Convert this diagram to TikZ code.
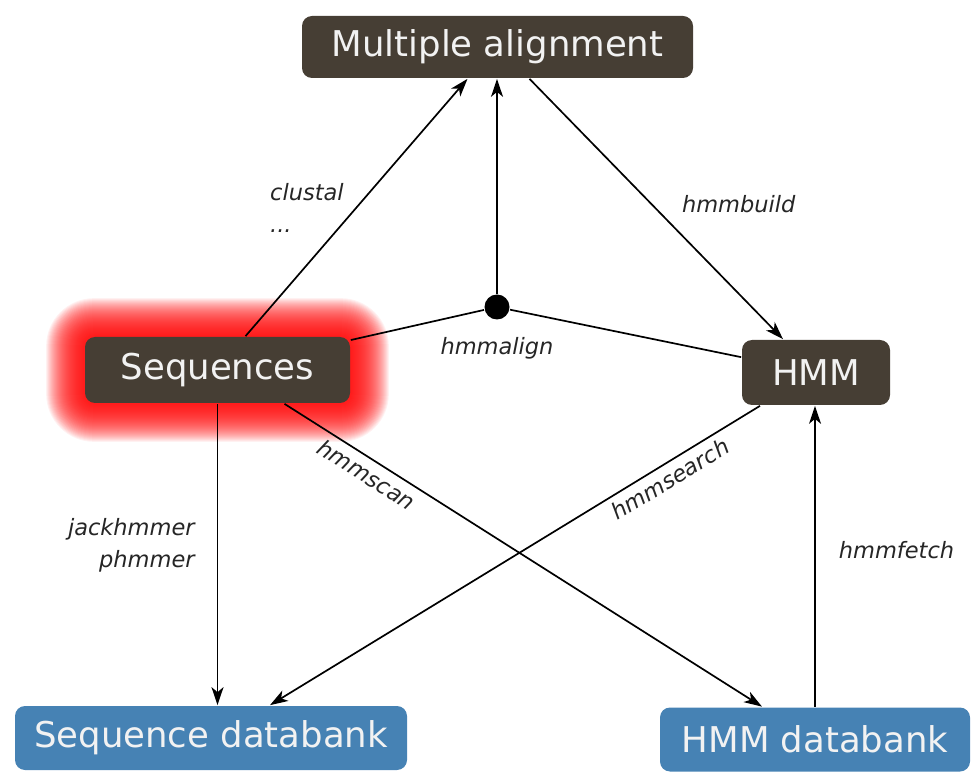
\documentclass[tikz,border=0pt]{standalone}
\usepackage{fontspec}
\setmainfont{DejaVu Sans}
\usetikzlibrary{arrows.meta,backgrounds}
\definecolor{boxbrown}{RGB}{70,62,52}
\definecolor{bankblue}{RGB}{70,130,180}

\begin{document}
\begin{tikzpicture}[x=1pt, y=-1pt, line width=1.7pt, >={Stealth[length=18pt,width=12pt,inset=5pt]},
    box/.style={rounded corners=10pt, fill=boxbrown, text=white!95!black, inner sep=0pt,
      font=\fontsize{35.5}{40}\selectfont, minimum height=62pt},
    bank/.style={box, fill=bankblue},
    tool/.style={font=\itshape\fontsize{22.5}{32}\selectfont, text=black!85, inner sep=2pt}]
    \useasboundingbox (0,0) rectangle (975,775);
    \node (ma) [box, minimum width=391pt] at (497.5,47) {Multiple alignment};
    \node (seq) [box, minimum width=265pt, minimum height=66pt] at (217.5,370) {Sequences};
    \node (hmm) [box, minimum width=148pt, minimum height=65pt] at (816,372.5) {HMM};
    \node (sdb) [bank, minimum width=392pt, minimum height=64pt] at (211,738) {Sequence databank};
    \node (hdb) [bank, minimum width=310pt, minimum height=64pt] at (815,739.5) {HMM databank};
    \node (dot) [circle, fill=black, minimum size=25pt, inner sep=0pt] at (497,307) {};
    \node (al) [tool] at (497,348) {hmmalign};
    % red glow round the sequences
    \begin{scope}[on background layer]
      \foreach \g [evaluate=\g as \r using 10+\g] in {1,...,38}
        \fill[red, opacity=.055, rounded corners=\r pt]
          ([shift={(-\g,\g)}]seq.south west) rectangle ([shift={(\g,-\g)}]seq.north east);
    \end{scope}
    \draw[->] ([xshift=28pt]seq.north) -- node[tool, left=10pt, align=left, pos=.5] {clustal\\...} ([xshift=-30pt]ma.south);
    \draw[->] (dot) -- (dot |- ma.south);
    \draw[->] ([xshift=32pt]ma.south) -- node[tool, right=28pt, pos=.48] {hmmbuild} ([xshift=-33pt]hmm.north);
    \draw (dot) -- (seq) (dot) -- (hmm);
    \draw[->] (seq.south) -- node[tool, left=20pt, align=right, pos=.47] {jackhmmer\\phmmer} (seq.south |- sdb.north);
    \draw[->] ([xshift=67pt]seq.south) -- node[tool, sloped, below=4pt, pos=.19] {hmmscan} ([xshift=-53pt]hdb.north);
    \draw[->] ([xshift=-56pt]hmm.south) -- node[tool, sloped, below=4pt, pos=.2] {hmmsearch} ([xshift=59pt]sdb.north);
    \draw[->] (hdb.north) -- node[tool, right=21pt, pos=.52] {hmmfetch} (hdb.north |- hmm.south);
\end{tikzpicture}
\end{document}
